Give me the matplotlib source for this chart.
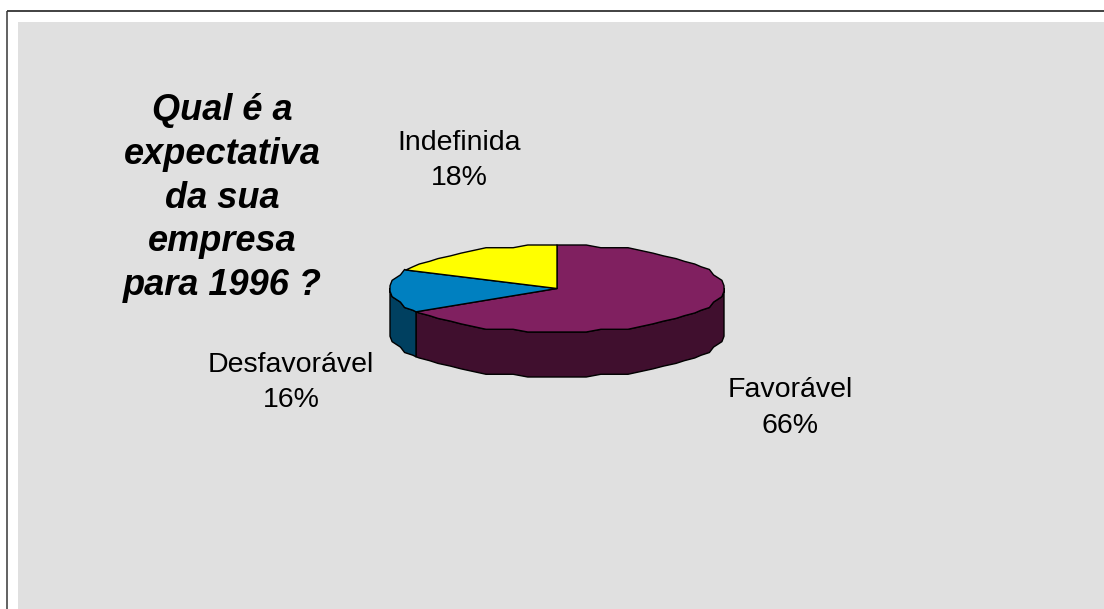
#!/usr/bin/env python3
import matplotlib
matplotlib.use('Agg')
import matplotlib.pyplot as plt
from matplotlib.patches import Rectangle
import numpy as np

# --- dados ---
labels = ['Favorável', 'Desfavorável', 'Indefinida']
values = [66, 16, 18]
top_colors = ['#802060', '#0080C0', '#FFFF00']
side_colors = ['#400F2E', '#004060', '#808000']
title = 'Qual é a\nexpectativa\nda sua\nempresa\npara 1996 ?'

W, H = 1104, 609
plt.rcParams['font.family'] = ['Liberation Sans', 'DejaVu Sans']

fig = plt.figure(figsize=(W / 100, H / 100), dpi=100, facecolor='white')

# fundo e moldura, em pixels
bg = fig.add_axes([0, 0, 1, 1])
bg.set_xlim(0, W)
bg.set_ylim(H, 0)
bg.axis('off')
bg.add_patch(Rectangle((18, 22), W - 18, H - 22, fc='#E0E0E0', ec='none'))
bg.plot([7, 7], [H, 11], color='#555555', lw=1.3, solid_capstyle='butt')
bg.plot([7, W], [11, 11], color='#333333', lw=1.3, solid_capstyle='butt')

# pizza: elipse superior em (557, 288.5), semi-eixos 167 x 43.5, altura 45
cx, cy, rx, ry, depth = 557, 288.5, 167, 43.5, 45
ax = fig.add_axes([(cx - rx) / W, 1 - (cy + ry) / H, 2 * rx / W, 2 * ry / H])
ax.set_xlim(-1, 1)
ax.set_ylim(-1, 1)
ax.axis('off')

fracs = np.cumsum([0] + values) / sum(values)
d = depth / ry
step = 2 * np.pi / 72


def arc(a0, a1):
    # angulos a partir das 12h, sentido horario
    # so os pontos internos sao arredondados: contorno em degraus leves
    k = np.arange(np.ceil(a0 / step), np.floor(a1 / step) + 1) * step
    x, y = np.sin(k), np.cos(k)
    x, y = np.round(x * 80) / 80, np.round(y * 16) / 16
    return np.r_[np.sin(a0), x, np.sin(a1)], np.r_[np.cos(a0), y, np.cos(a1)]


# laterais primeiro, so a metade da frente aparece
for i, col in enumerate(side_colors):
    a0 = max(fracs[i] * 2 * np.pi, np.pi / 2)
    a1 = min(fracs[i + 1] * 2 * np.pi, 3 * np.pi / 2)
    if a1 <= a0:
        continue
    x, y = arc(a0, a1)
    ax.fill(np.r_[x, x[::-1]], np.r_[y, y[::-1] - d], fc=col, ec='black', lw=1,
            joinstyle='round', clip_on=False, zorder=1)

# tampa
for i, col in enumerate(top_colors):
    x, y = arc(fracs[i] * 2 * np.pi, fracs[i + 1] * 2 * np.pi)
    ax.fill(np.r_[0, x], np.r_[0, y], fc=col, ec='black', lw=1,
            joinstyle='round', clip_on=False, zorder=2)

# textos
bg.text(222, 198, title, fontsize=26, fontweight='bold', fontstyle='italic',
        ha='center', va='center', linespacing=1.325, color='black')
pos = [(790, 408), (291, 382.5), (459, 160.5)]
for lab, v, (x, y) in zip(labels, values, pos):
    bg.text(x, y, f'{lab}\n{v}%', fontsize=20.5, ha='center', va='center',
            linespacing=1.47, color='black')

fig.savefig('out.png', dpi=100)
